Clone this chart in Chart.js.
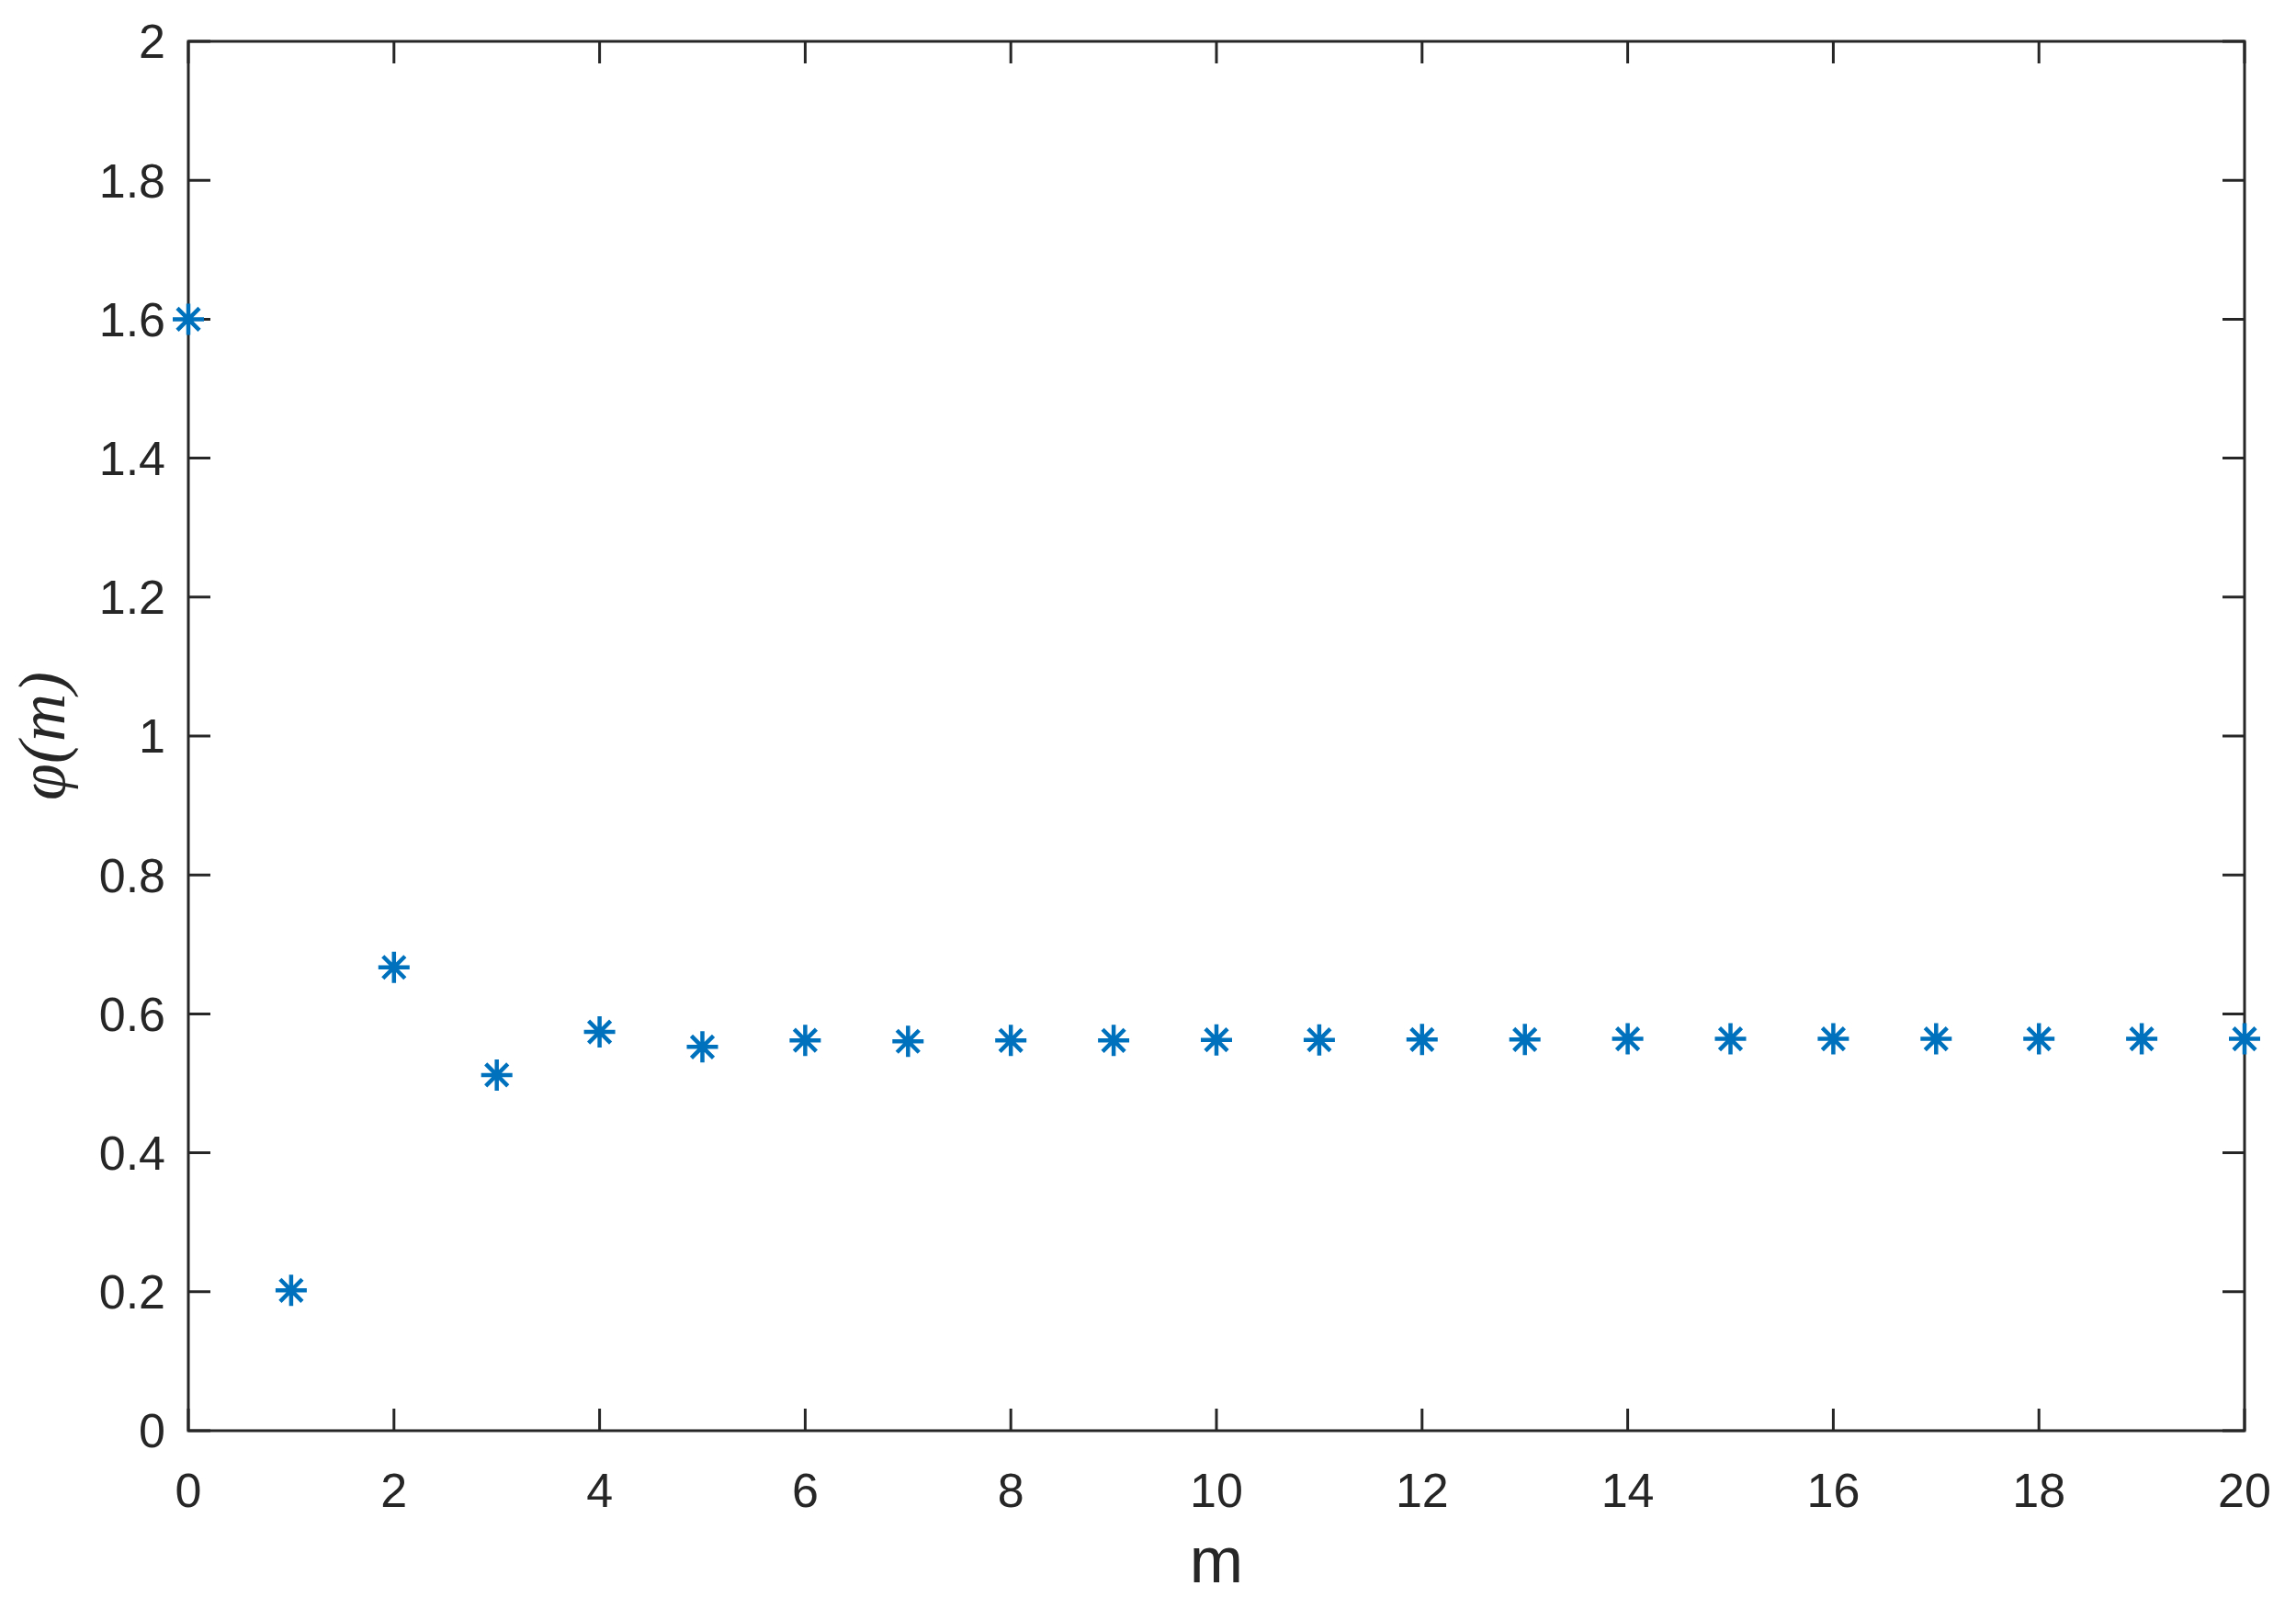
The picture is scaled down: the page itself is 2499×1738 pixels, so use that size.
<!DOCTYPE html>
<html>
<head>
<meta charset="utf-8">
<script src="https://cdn.jsdelivr.net/npm/chart.js@4/dist/chart.umd.min.js"></script>
<style>
  html, body { margin: 0; padding: 0; background: #fff; }
  #wrap { width: 2499px; height: 1738px; }
</style>
</head>
<body>
<div id="wrap"><canvas id="chart"></canvas></div>
<script>
const mValues = [0, 1, 2, 3, 4, 5, 6, 7, 8, 9, 10, 11, 12, 13, 14, 15, 16, 17, 18, 19, 20];
const phiValues = [1.6, 0.202, 0.667, 0.512, 0.574, 0.5525, 0.562, 0.5605, 0.5618, 0.5618, 0.5626,
  0.5626, 0.563, 0.563, 0.564, 0.564, 0.564, 0.564, 0.564, 0.564, 0.564];
const xTicks = [0, 2, 4, 6, 8, 10, 12, 14, 16, 18, 20];
const xTickLabels = ["0", "2", "4", "6", "8", "10", "12", "14", "16", "18", "20"];
const yTicks = [0, 0.2, 0.4, 0.6, 0.8, 1, 1.2, 1.4, 1.6, 1.8, 2];
const yTickLabels = ["0", "0.2", "0.4", "0.6", "0.8", "1", "1.2", "1.4", "1.6", "1.8", "2"];

const axisColor = "#262626";
const markerColor = "#0072BD";

// box around the plot with inward ticks on all four sides, like matlab
const boxTicks = {
  id: "boxTicks",
  beforeDatasetsDraw(chart) {
    const { ctx, chartArea: a, scales } = chart;
    const len = 24;
    ctx.save();
    ctx.strokeStyle = axisColor;
    ctx.lineWidth = 3;
    ctx.beginPath();
    xTicks.forEach((v) => {
      const px = scales.x.getPixelForValue(v);
      ctx.moveTo(px, a.bottom);
      ctx.lineTo(px, a.bottom - len);
      ctx.moveTo(px, a.top);
      ctx.lineTo(px, a.top + len);
    });
    yTicks.forEach((v) => {
      const py = scales.y.getPixelForValue(v);
      ctx.moveTo(a.left, py);
      ctx.lineTo(a.left + len, py);
      ctx.moveTo(a.right, py);
      ctx.lineTo(a.right - len, py);
    });
    ctx.stroke();
    ctx.strokeRect(a.left, a.top, a.right - a.left, a.bottom - a.top);
    ctx.restore();
  },
};

new Chart(document.getElementById("chart"), {
  type: "scatter",
  data: {
    datasets: [
      {
        data: mValues.map((m, i) => ({ x: m, y: phiValues[i] })),
        pointStyle: "star",
        pointRadius: 17,
        pointHoverRadius: 17,
        borderWidth: 4.5,
        borderColor: markerColor,
        backgroundColor: markerColor,
        showLine: false,
        clip: false,
      },
    ],
  },
  options: {
    responsive: true,
    maintainAspectRatio: false,
    animation: false,
    events: [],
    layout: { padding: { left: 0, top: 45, right: 56, bottom: 0 } },
    plugins: {
      legend: { display: false },
      tooltip: { enabled: false },
    },
    scales: {
      x: {
        type: "linear",
        min: 0,
        max: 20,
        afterBuildTicks: (s) => { s.ticks = xTicks.map((v) => ({ value: v })); },
        afterFit: (s) => {
          s.height = 181;
          s.paddingLeft = 0;
          s.paddingRight = 0;
        },
        grid: { display: false, drawTicks: false },
        border: { display: false },
        ticks: {
          color: axisColor,
          padding: 37,
          maxRotation: 0,
          font: { family: "Liberation Sans", size: 52 },
          callback: (v, i) => xTickLabels[i],
        },
        title: {
          display: true,
          text: "m",
          color: axisColor,
          padding: { top: 0, bottom: 0 },
          font: { family: "Liberation Sans", size: 70, lineHeight: 1 },
        },
      },
      y: {
        type: "linear",
        min: 0,
        max: 2,
        afterBuildTicks: (s) => { s.ticks = yTicks.map((v) => ({ value: v })); },
        afterFit: (s) => {
          s.width = 205;
          s.paddingTop = 0;
          s.paddingBottom = 0;
        },
        grid: { display: false, drawTicks: false },
        border: { display: false },
        ticks: {
          color: axisColor,
          padding: 25,
          labelOffset: 4,
          font: { family: "Liberation Sans", size: 52 },
          callback: (v, i) => yTickLabels[i],
        },
        title: {
          display: true,
          text: "φ(m)",
          color: axisColor,
          padding: { top: 8, bottom: 0 },
          font: { family: "Liberation Serif", size: 72, style: "italic" },
        },
      },
    },
  },
  plugins: [boxTicks],
});
</script>
</body>
</html>
